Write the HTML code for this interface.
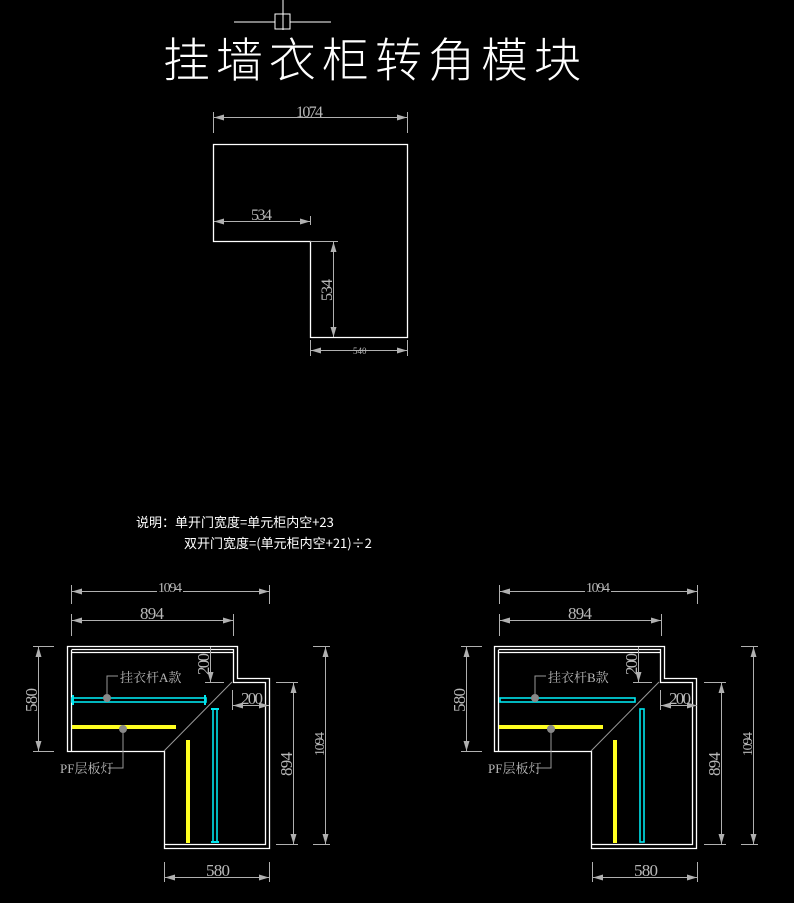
<!DOCTYPE html>
<html><head><meta charset="utf-8"><style>
html,body{margin:0;padding:0;background:#000;}
svg{display:block;}
.d{font-family:"Liberation Serif","Noto Serif CJK SC",serif;fill:#b8b8b8;}
</style></head><body>
<svg width="794" height="903" viewBox="0 0 794 903" xmlns="http://www.w3.org/2000/svg">
<defs>
<marker id="a" viewBox="0 0 10 6" refX="10" refY="3" markerWidth="10" markerHeight="6" orient="auto-start-reverse" markerUnits="userSpaceOnUse">
<path d="M0,0 L10,3 L0,6 Z" fill="#b0b0b0"/></marker>
</defs>
<rect width="794" height="903" fill="#000"/>
<g stroke="#fff" stroke-width="1" fill="none">
<line x1="283" y1="0" x2="283" y2="30"/>
<rect x="275" y="14" width="15" height="15"/>
<line x1="234" y1="22" x2="275" y2="22"/><line x1="290" y1="22" x2="331" y2="22"/>
</g>
<text x="163" y="77" fill="#fff" font-family="'Noto Sans CJK SC','WenQuanYi Zen Hei',sans-serif" font-weight="300" font-size="47" textLength="418" lengthAdjust="spacing">挂墙衣柜转角模块</text>

<g stroke="#fff" stroke-width="1.3" fill="none">
<path d="M213.5,144.5 H407.5 V337.5 H310.5 V241.5 H213.5 Z"/>
</g>
<g stroke="#b0b0b0" stroke-width="1" fill="none">
<line x1="213.5" y1="112" x2="213.5" y2="133"/><line x1="407.5" y1="112" x2="407.5" y2="133"/>
<line x1="214" y1="117.5" x2="407" y2="117.5" marker-start="url(#a)" marker-end="url(#a)"/>
<line x1="310.5" y1="216" x2="310.5" y2="225"/>
<line x1="214" y1="221.5" x2="310" y2="221.5" marker-start="url(#a)" marker-end="url(#a)"/>
<line x1="310" y1="241.5" x2="338" y2="241.5"/>
<line x1="333.5" y1="242" x2="333.5" y2="337" marker-start="url(#a)" marker-end="url(#a)"/>
<line x1="310.5" y1="340" x2="310.5" y2="356"/><line x1="407.5" y1="340" x2="407.5" y2="356"/>
<line x1="311" y1="350.5" x2="407" y2="350.5" marker-start="url(#a)" marker-end="url(#a)"/>
</g>
<rect x="295" y="104" width="30" height="13" fill="#000"/>
<text class="d" x="296" y="117" font-size="16" textLength="27">1074</text>
<text class="d" x="251" y="220" font-size="16" textLength="21">534</text>
<text class="d" font-size="16" transform="translate(332,301) rotate(-90)" textLength="22">534</text>
<text class="d" x="353" y="354" font-size="9">540</text>

<g fill="#fff" font-family="'Noto Sans CJK SC','WenQuanYi Zen Hei',sans-serif" font-size="13">
<text x="136" y="527">说明：单开门宽度=单元柜内空+23</text>
<text x="184" y="548">双开门宽度=(单元柜内空+21)÷2</text>
</g>

<g id="L">
<g stroke="#fff" stroke-width="1.3" fill="none">
<path d="M67.5,646.5 H237.5 V678.5 H269.5 V848.5 H164.5 V751.5 H67.5 Z"/>
<path d="M71.5,649.5 H233.5 V682.5 H265.5 V844.5 H164.5"/>
<line x1="71.5" y1="650" x2="71.5" y2="751"/>
<line x1="71" y1="652.5" x2="233" y2="652.5"/>
</g>
<line x1="164" y1="751" x2="232" y2="682" stroke="#999" stroke-width="1"/>
</g>
<rect x="72" y="698" width="134" height="4" fill="none" stroke="#00e5ee" stroke-width="1.6"/>
<rect x="72" y="695" width="2" height="10" fill="#00e5ee"/><rect x="204" y="695" width="2" height="10" fill="#00e5ee"/>
<rect x="213" y="709" width="4" height="133" fill="none" stroke="#00e5ee" stroke-width="1.6"/>
<rect x="211" y="708" width="8" height="2" fill="#00e5ee"/><rect x="211" y="841" width="8" height="2" fill="#00e5ee"/>
<rect x="72" y="725" width="104" height="4" fill="#ffff20"/>
<rect x="186" y="740" width="4" height="103" fill="#ffff20"/>
<g stroke="#999" fill="none" stroke-width="1">
<path d="M107,698 V676 H118"/><path d="M123,729 V768 H108"/>
</g>
<circle cx="107" cy="698" r="4" fill="#888"/><circle cx="123" cy="729" r="4" fill="#888"/>
<text class="d" x="120" y="682" font-size="13">挂衣杆A款</text>
<text class="d" x="60" y="773" font-size="13">PF层板灯</text>

<use href="#L" x="427"/>
<rect x="500" y="698" width="135" height="4" fill="none" stroke="#00e5ee" stroke-width="1.6"/>
<rect x="640" y="709" width="4" height="133" fill="none" stroke="#00e5ee" stroke-width="1.6"/>
<rect x="499" y="725" width="104" height="4" fill="#ffff20"/>
<rect x="613" y="740" width="4" height="103" fill="#ffff20"/>
<g stroke="#999" fill="none" stroke-width="1">
<path d="M535,698 V676 H546"/><path d="M551,729 V768 H536"/>
</g>
<circle cx="535" cy="698" r="4" fill="#888"/><circle cx="551" cy="729" r="4" fill="#888"/>
<text class="d" x="548" y="682" font-size="13">挂衣杆B款</text>
<text class="d" x="488" y="773" font-size="13">PF层板灯</text>

<g id="D">
<g stroke="#b0b0b0" stroke-width="1" fill="none">
<line x1="71.5" y1="585" x2="71.5" y2="604"/><line x1="269.5" y1="585" x2="269.5" y2="604"/>
<line x1="72" y1="591.5" x2="269" y2="591.5" marker-start="url(#a)" marker-end="url(#a)"/>
<line x1="71.5" y1="614" x2="71.5" y2="636"/><line x1="233.5" y1="614" x2="233.5" y2="636"/>
<line x1="72" y1="620.5" x2="233" y2="620.5" marker-start="url(#a)" marker-end="url(#a)"/>
<line x1="33" y1="646.5" x2="54" y2="646.5"/><line x1="33" y1="751.5" x2="54" y2="751.5"/>
<line x1="38.5" y1="647" x2="38.5" y2="751" marker-start="url(#a)" marker-end="url(#a)"/>
<line x1="205" y1="682.5" x2="224" y2="682.5"/>
<line x1="210.5" y1="647" x2="210.5" y2="682" marker-end="url(#a)"/>
<line x1="232.5" y1="690" x2="232.5" y2="710"/>
<line x1="233" y1="705.5" x2="269" y2="705.5" marker-start="url(#a)" marker-end="url(#a)"/>
<line x1="276" y1="682.5" x2="298" y2="682.5"/><line x1="276" y1="844.5" x2="298" y2="844.5"/>
<line x1="293.5" y1="683" x2="293.5" y2="844" marker-start="url(#a)" marker-end="url(#a)"/>
<line x1="313" y1="646.5" x2="330" y2="646.5"/><line x1="313" y1="844.5" x2="330" y2="844.5"/>
<line x1="325.5" y1="647" x2="325.5" y2="844" marker-start="url(#a)" marker-end="url(#a)"/>
<line x1="164.5" y1="862" x2="164.5" y2="882"/><line x1="269.5" y1="862" x2="269.5" y2="882"/>
<line x1="165" y1="877.5" x2="269" y2="877.5" marker-start="url(#a)" marker-end="url(#a)"/>
</g>
<g class="d">
<rect x="157" y="580" width="26" height="14" fill="#000"/>
<text x="158" y="592" font-size="14" textLength="24">1094</text>
<text x="140" y="619" font-size="17" textLength="24">894</text>
<text font-size="17" transform="translate(37,712) rotate(-90)" textLength="24">580</text>
<text font-size="17" transform="translate(209,675) rotate(-90)" textLength="22">200</text>
<text x="241" y="704" font-size="17" textLength="22">200</text>
<text font-size="17" transform="translate(292,776) rotate(-90)" textLength="24">894</text>
<text font-size="14" transform="translate(324,756) rotate(-90)" textLength="24">1094</text>
<text x="206" y="876" font-size="17" textLength="24">580</text>
</g>
</g>
<use href="#D" x="428"/>
</svg>
</body></html>
